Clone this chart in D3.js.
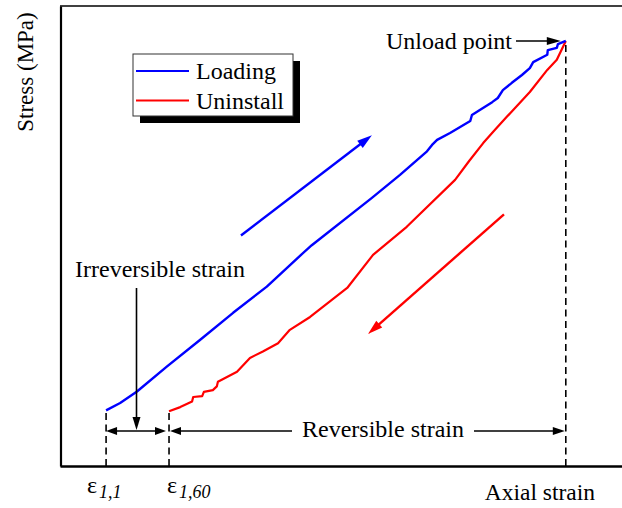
<!DOCTYPE html>
<html>
<head>
<meta charset="utf-8">
<script src="https://cdn.jsdelivr.net/npm/d3@7"></script>
<style>
  html, body { margin: 0; padding: 0; background: #fff; }
  svg text { font-family: "Liberation Serif", "Times New Roman", serif; fill: #000; }
</style>
</head>
<body>
<svg id="chart" width="622" height="508"></svg>
<script>
// Loading branch (axial strain, stress) in relative units, from start of cycle up to the unload point
const loadingStrain = [8.2, 10.7, 13.7, 19.0, 24.9, 30.8, 36.8, 42.7, 44.8, 55.5, 60.5, 65.3, 66.2, 67.1, 69.4, 71.2, 73.0, 73.3, 74.7, 76.9, 77.9, 78.8, 80.4, 82.2, 83.6, 84.2, 86.7, 86.8, 88.4, 88.6, 90.0];
const loadingStress = [12.1, 13.7, 16.2, 21.6, 27.4, 33.3, 39.0, 45.7, 48.0, 58.3, 63.3, 68.4, 69.8, 70.9, 72.4, 73.7, 75.0, 76.3, 77.4, 79.1, 80.0, 81.7, 83.3, 85.0, 86.5, 87.8, 89.4, 90.4, 90.9, 91.7, 92.4];

// Unloading ("Uninstall") branch, from the unload point back down to the residual strain
const unloadStrain = [90.0, 88.4, 86.7, 83.6, 79.5, 77.4, 75.3, 72.8, 70.3, 61.7, 55.7, 51.1, 44.5, 40.9, 38.8, 36.1, 33.8, 31.5, 28.1, 27.9, 27.2, 25.6, 25.3, 23.7, 23.5, 21.4, 19.4];
const unloadStress = [92.4, 88.3, 86.1, 81.3, 75.9, 73.1, 70.2, 66.3, 62.2, 52.0, 45.9, 38.7, 32.4, 29.6, 26.7, 24.9, 23.5, 20.5, 18.3, 17.3, 16.5, 16.1, 15.2, 15.0, 14.0, 12.8, 11.9];

// Characteristic strains
const strainMarks = { eps11: 8.2, eps160: 19.4, unload: 90.0 };

// Legend entries
const seriesNames = ["Loading", "Uninstall"];
const seriesColors = ["#0000ff", "#ff0000"];

const svg = d3.select("#chart");
const x = d3.scaleLinear().domain([0, 100]).range([60, 622]);
const y = d3.scaleLinear().domain([0, 100]).range([466, 6]);

const line = d3.line().x(d => x(d[0])).y(d => y(d[1]));
const loading = loadingStrain.map((s, i) => [s, loadingStress[i]]);
const unloading = unloadStrain.map((s, i) => [s, unloadStress[i]]);

// filled arrowhead with its tip at (tx, ty), pointing along angle (radians)
function arrowHead(g, tx, ty, ang, len, wid, color) {
  const bx = tx - Math.cos(ang) * len, by = ty - Math.sin(ang) * len;
  const px = -Math.sin(ang) * wid / 2, py = Math.cos(ang) * wid / 2;
  g.append("path")
    .attr("d", `M${tx},${ty}L${bx + px},${by + py}L${bx - px},${by - py}Z`)
    .attr("fill", color);
}
function arrow(g, x1, y1, x2, y2, color, w, len, wid) {
  const ang = Math.atan2(y2 - y1, x2 - x1);
  g.append("line")
    .attr("x1", x1).attr("y1", y1)
    .attr("x2", x2 - Math.cos(ang) * len * 0.6).attr("y2", y2 - Math.sin(ang) * len * 0.6)
    .attr("stroke", color).attr("stroke-width", w);
  arrowHead(g, x2, y2, ang, len, wid, color);
}

// frame: left and bottom axes without ticks, thin top border
svg.append("g").attr("transform", "translate(60.5,0)")
  .call(d3.axisLeft(y).tickValues([]).tickSizeOuter(0))
  .call(g => g.select(".domain").attr("stroke-width", 2.2));
svg.append("g").attr("transform", "translate(0,466)")
  .call(d3.axisBottom(x).tickValues([]).tickSizeOuter(0))
  .call(g => g.select(".domain").attr("stroke-width", 2.4));
svg.append("line").attr("x1", 60).attr("x2", 622).attr("y1", 6).attr("y2", 6)
  .attr("stroke", "#000").attr("stroke-width", 1.5);

// dashed guides from the axis up to each characteristic strain
const guides = [
  [strainMarks.eps11, loadingStress[0]],
  [strainMarks.eps160, unloadStress[unloadStress.length - 1]],
  [strainMarks.unload, loadingStress[loadingStress.length - 1]]
];
svg.append("g").selectAll("line").data(guides).join("line")
  .attr("x1", d => x(d[0])).attr("x2", d => x(d[0]))
  .attr("y1", y(0)).attr("y2", d => y(d[1]))
  .attr("stroke", "#000").attr("stroke-width", 1.6)
  .attr("stroke-dasharray", "7,4.5");

// curves
svg.append("path").datum(unloading).attr("d", line)
  .attr("fill", "none").attr("stroke", seriesColors[1]).attr("stroke-width", 2.2)
  .attr("stroke-linejoin", "round");
svg.append("path").datum(loading).attr("d", line)
  .attr("fill", "none").attr("stroke", seriesColors[0]).attr("stroke-width", 2.4)
  .attr("stroke-linejoin", "round");

const ann = svg.append("g");

// direction arrows
arrow(ann, x(32.2), y(50.1), x(55.5), y(71.9), seriesColors[0], 2.4, 15, 9);
arrow(ann, x(79.0), y(54.7), x(54.8), y(28.7), seriesColors[1], 2.4, 15, 9);

// dimension row
const dimY = 431;
const xa = x(strainMarks.eps11), xb = x(strainMarks.eps160), xc = x(strainMarks.unload);
ann.append("line").attr("x1", xa + 6).attr("x2", xb - 9).attr("y1", dimY).attr("y2", dimY)
  .attr("stroke", "#000").attr("stroke-width", 1.6);
arrowHead(ann, xa, dimY, Math.PI, 11, 8, "#000");
arrowHead(ann, xb - 3, dimY, 0, 11, 8, "#000");
arrowHead(ann, xb + 1, dimY, Math.PI, 11, 8, "#000");
ann.append("line").attr("x1", xb + 6).attr("x2", 292).attr("y1", dimY).attr("y2", dimY)
  .attr("stroke", "#000").attr("stroke-width", 1.6);
ann.append("line").attr("x1", 474).attr("x2", xc - 7).attr("y1", dimY).attr("y2", dimY)
  .attr("stroke", "#000").attr("stroke-width", 1.6);
arrowHead(ann, xc - 1, dimY, 0, 12, 8, "#000");
ann.append("text").attr("x", 383).attr("y", 437).attr("text-anchor", "middle")
  .attr("font-size", 24).text("Reversible strain");

// irreversible strain callout
arrow(ann, 136.5, 288, 136.5, 430, "#000", 1.6, 13, 8);
ann.append("text").attr("x", 160).attr("y", 277).attr("text-anchor", "middle")
  .attr("font-size", 24).text("Irreversible strain");

// unload point callout
arrow(ann, 516, 41, xc - 5, 41, "#000", 1.6, 14, 8);
ann.append("text").attr("x", 512).attr("y", 49).attr("text-anchor", "end")
  .attr("font-size", 24).text("Unload point");

// strain labels
function epsLabel(x0, sub) {
  const t = svg.append("text").attr("x", x0).attr("y", 493);
  t.append("tspan").attr("font-size", 24).text("ε");
  t.append("tspan").attr("font-size", 18).attr("font-style", "italic")
    .attr("dx", 2).attr("dy", 5).text(sub);
}
epsLabel(87, "1,1");
epsLabel(167, "1,60");

// axis titles
svg.append("text").attr("x", 595).attr("y", 500).attr("text-anchor", "end")
  .attr("font-size", 23.5).text("Axial strain");
svg.append("text").attr("transform", "translate(33,72) rotate(-90)")
  .attr("text-anchor", "middle").attr("font-size", 23).text("Stress (MPa)");

// legend with drop shadow
const lg = svg.append("g");
lg.append("rect").attr("x", 140).attr("y", 61).attr("width", 160).attr("height", 62).attr("fill", "#000");
lg.append("rect").attr("x", 133).attr("y", 54).attr("width", 160).attr("height", 62)
  .attr("fill", "#fff").attr("stroke", "#333").attr("stroke-width", 1);
seriesNames.forEach((name, i) => {
  const ly = 71 + i * 29.5;
  lg.append("line").attr("x1", 136).attr("x2", 189).attr("y1", ly).attr("y2", ly)
    .attr("stroke", seriesColors[i]).attr("stroke-width", 2.2);
  lg.append("text").attr("x", 196).attr("y", ly + 8).attr("font-size", 24).text(name);
});
</script>
</body>
</html>
